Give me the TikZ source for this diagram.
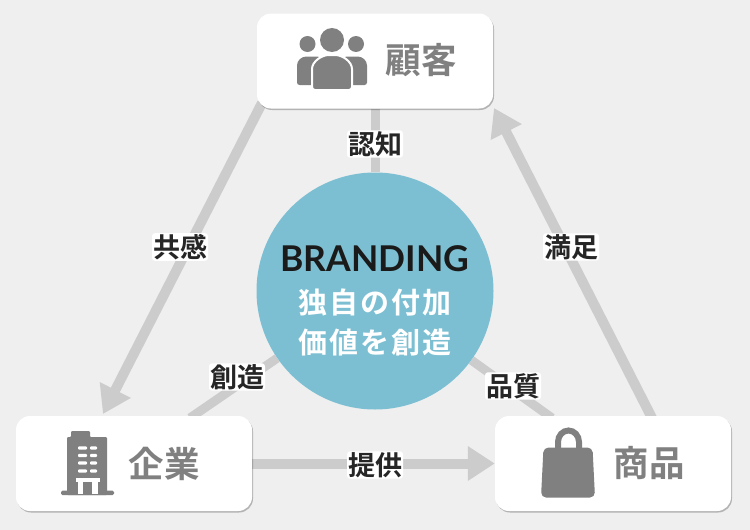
\documentclass[tikz,border=0pt]{standalone}
\usepackage{fontspec}
\setmainfont{Lato}
\newfontfamily\jpfont{Noto Sans CJK JP Bold}
\usetikzlibrary{arrows.meta,shadows}
\definecolor{paper}{HTML}{EFEFEF}
\definecolor{linegray}{HTML}{CCCCCC}
\definecolor{icongray}{HTML}{808080}
\definecolor{brandblue}{HTML}{7CBFD2}
\definecolor{inkblack}{HTML}{1A1A1A}
\pgfdeclarelayer{paperlayer}
\pgfdeclarelayer{linelayer}
\pgfsetlayers{paperlayer,linelayer,main}
\newcommand{\gapchar}{\hspace{2.2pt}}
\tikzset{
  card/.style={fill=white,rounded corners=14pt,minimum width=236pt,minimum height=95pt,inner sep=0pt,
    drop shadow={shadow xshift=1pt,shadow yshift=-1.5pt,opacity=.25,fill=black}},
  cardtext/.style={text=icongray,font=\jpfont\fontsize{35.5}{36}\selectfont,inner sep=0pt},
  tag/.style={fill=white,rounded corners=3pt,inner sep=1pt,text=black!85,font=\jpfont\fontsize{27}{27}\selectfont},
  plainline/.style={draw=linegray,line width=9pt},
  arrowline/.style={draw=linegray,line width=10pt,-{Triangle[length=27pt,width=33pt]}},
  brandtext/.style={inner sep=0pt,text=white,font=\jpfont\fontsize{29}{29}\selectfont},
}
\begin{document}
\begin{tikzpicture}[x=1pt,y=-1pt]
\useasboundingbox (0,0) rectangle (750,530);
\begin{pgfonlayer}{paperlayer}
\fill[paper] (0,0) rectangle (750,530);
\end{pgfonlayer}

% The three cards and the circle
\node[card] (customer) at (375,61) {};
\node[card] (company) at (134,463.5) {};
\node[card] (product) at (613,463.5) {};
\node[circle,fill=brandblue,minimum size=237pt,inner sep=0pt] (brand) at (375,291) {};

% free ends of the connectors
\coordinate (custleft) at (262,103);
\coordinate (custright) at (494,108);
\coordinate (compin) at (103,414);
\coordinate (compline) at (190,418);
\coordinate (prodline) at (552,418);
\coordinate (prodout) at (652,418);

\begin{pgfonlayer}{linelayer}
\draw[plainline] (brand) -- (customer);
\draw[plainline] (brand) -- (compline);
\draw[plainline] (brand) -- (prodline);
\draw[arrowline] (custleft) -- (compin);
\draw[arrowline] (prodout) -- (custright);
\draw[arrowline] (company.east) -- (product.west);
\end{pgfonlayer}

% Card texts
\node[cardtext] (customertext) at (421,60) {顧客};
\node[cardtext] (companytext) at (164,464) {企業};
\node[cardtext] (producttext) at (649,463) {商品};

% Circle texts
\node[inner sep=0pt,text=inkblack,font=\bfseries\fontsize{35.5}{36}\selectfont] (brandtitle) at (375,258.5) {BRANDING};
\node[brandtext] (brandone) at (375,302) {独\gapchar 自\gapchar の\gapchar 付\gapchar 加};
\node[brandtext] (brandtwo) at (375,342) {価\gapchar 値\gapchar を\gapchar 創\gapchar 造};

% Connector labels
\node[tag] (recognition) at (375,144) {認知};
\node[tag] (empathy) at (180,247) {共感};
\node[tag] (satisfaction) at (571,247) {満足};
\node[tag] (creation) at (237,377) {創造};
\node[tag] (quality) at (513,386) {品質};
\node[tag] (supply) at (375,465) {提供};

% People icon
\fill[icongray] (332,40) circle (12);
\fill[icongray] (307.5,44) circle (8);
\fill[icongray] (356,44) circle (8);
\fill[icongray,rounded corners=2.5pt] (297,85) -- (297,68) .. controls (297,60) and (302,56.5) .. (309,56.5) -- (320,56.5) -- (320,85) -- cycle;
\fill[icongray,rounded corners=2.5pt] (367,85) -- (367,68) .. controls (367,60) and (362,56.5) .. (355,56.5) -- (344,56.5) -- (344,85) -- cycle;
\fill[icongray,draw=white,line width=2pt,rounded corners=3pt] (312,90) -- (312,72) .. controls (312,62) and (321,55) .. (332,55) .. controls (343,55) and (352,62) .. (352,72) -- (352,90) -- cycle;

% Building icon
\fill[icongray,rounded corners=1pt] (67,495) -- (67,437) -- (71,437) -- (71,431) -- (90,431) -- (90,437) -- (107,437) -- (107,495) -- cycle;
\fill[icongray,rounded corners=1.5pt] (61,490.5) rectangle (114,495);
\foreach \rowy in {448,455.5,463,471}{
  \fill[white,rounded corners=1pt] (78,\rowy-1.7) rectangle (87,\rowy+1.7);
  \fill[white,rounded corners=1pt] (90,\rowy-1.7) rectangle (97,\rowy+1.7);
}
\fill[white] (76,478) rectangle (100,482);
\fill[white] (78,482) rectangle (83,494);
\fill[white] (92,482) rectangle (98,494);

% Bag icon
\draw[icongray,line width=6pt] (558,449) -- (558,442) arc (180:360:10.5 and 11.5) -- (579,449);
\fill[icongray,rounded corners=5pt] (543.5,447.5) -- (592.5,447.5) -- (595,497.5) -- (541,497.5) -- cycle;
\end{tikzpicture}
\end{document}
